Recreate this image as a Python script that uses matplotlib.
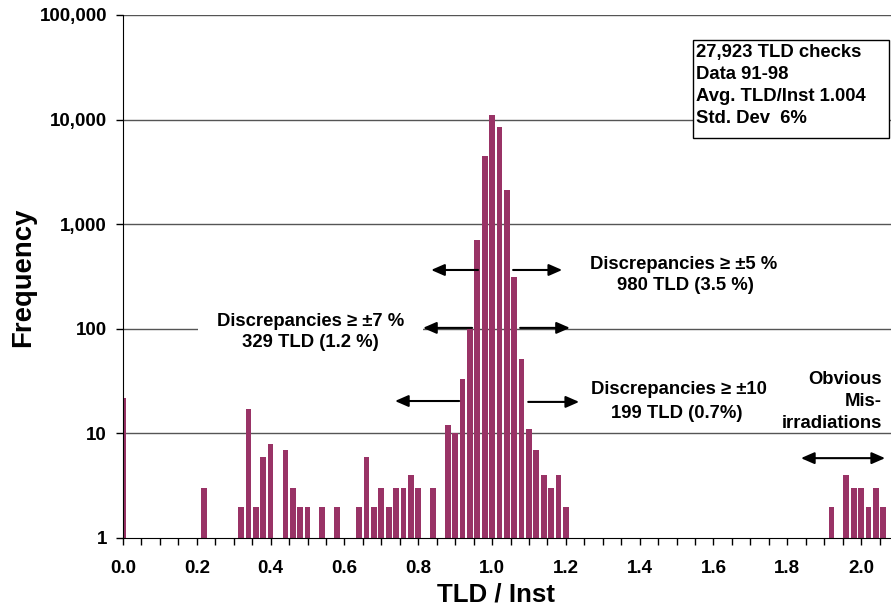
import numpy as np
from matplotlib import pyplot as plt
from matplotlib.patches import Rectangle
from matplotlib.ticker import FixedLocator, MultipleLocator

# bin centres (TLD / Inst) and counts
bin_centres = [0.00, 0.22, 0.32, 0.34, 0.36, 0.38, 0.40, 0.44, 0.46, 0.48,
               0.50, 0.54, 0.58, 0.64, 0.66, 0.68, 0.70, 0.72, 0.74, 0.76,
               0.78, 0.80, 0.84, 0.88, 0.90, 0.92, 0.94, 0.96, 0.98, 1.00,
               1.02, 1.04, 1.06, 1.08, 1.10, 1.12, 1.14, 1.16, 1.18, 1.20,
               1.92, 1.96, 1.98, 2.00, 2.02, 2.04, 2.06]
counts = [22, 3, 2, 17, 2, 6, 8, 7, 3, 2,
          2, 2, 2, 2, 6, 2, 3, 2, 3, 3,
          4, 3, 3, 12, 10, 33, 100, 700, 4500, 11000,
          8500, 2100, 310, 51, 11, 7, 4, 3, 4, 2,
          2, 4, 3, 3, 2, 3, 2]

y_ticks = [1, 10, 100, 1000, 10000, 100000]
y_labels = ['1', '10', '100', '1,000', '10,000', '100,000']
x_ticks = np.arange(0, 2.01, 0.2)
x_labels = [f'{t:.1f}' for t in x_ticks]

info_lines = ['27,923 TLD checks', 'Data 91-98', 'Avg. TLD/Inst 1.004', 'Std. Dev  6%']

plt.rcParams['font.family'] = ['Liberation Sans', 'DejaVu Sans']
plt.rcParams['font.weight'] = 'bold'
FS = 13.3

fig = plt.figure(figsize=(8.91, 6.10), dpi=100)
ax = fig.add_axes([123 / 891, 72 / 610, 768 / 891, 523 / 610])

for y in y_ticks[1:]:
    ax.axhline(y, color='#555555', lw=1, zorder=0)

ax.bar(bin_centres, counts, width=0.0155, color='#993366', zorder=2)

ax.set_yscale('log')
ax.set_ylim(1, 100000)
ax.set_xlim(0, 2.081)
ax.yaxis.set_major_locator(FixedLocator(y_ticks))
ax.yaxis.set_minor_locator(FixedLocator([]))
ax.set_yticklabels(y_labels)
ax.set_xticks(x_ticks)
ax.set_xticklabels(x_labels)
ax.xaxis.set_minor_locator(MultipleLocator(0.05))
ax.tick_params(axis='both', which='both', direction='out', length=5, width=1,
               labelsize=13.5, colors='black')
ax.tick_params(axis='y', pad=6.5)
ax.tick_params(axis='x', which='major', pad=10.5)
for side in ['top', 'right']:
    ax.spines[side].set_visible(False)

ax.set_xlabel('TLD / Inst', fontsize=18.6, fontweight='bold')
ax.xaxis.set_label_coords((496 - 123) / 768, (538 - 595) / 523)
ax.xaxis.label.set_va('center')
ax.set_ylabel('Frequency', fontsize=19.8, fontweight='bold')
ax.yaxis.set_label_coords((23.5 - 123) / 768, 0.498)
ax.yaxis.label.set_va('center')

# info box
ax.add_patch(Rectangle((0.742, 0.765), 0.255, 0.187, transform=ax.transAxes,
                       facecolor='white', edgecolor='black', lw=1, zorder=5))
for i, line in enumerate(info_lines):
    ax.text(0.7455, 0.929 - i * 0.042, line, transform=ax.transAxes, fontsize=FS,
            fontweight='bold', va='center', ha='left', zorder=6)

arrow = dict(arrowstyle='-|>,head_length=0.8,head_width=0.35', color='black', lw=1.5,
             shrinkA=0, shrinkB=0)
# +-5 %
ax.annotate('', xy=(0.835, 365), xytext=(0.962, 365), arrowprops=arrow, zorder=4)
ax.annotate('', xy=(1.19, 365), xytext=(1.057, 365), arrowprops=arrow, zorder=4)
ax.text(1.518, 410, 'Discrepancies \u2265 \u00b15 %', ha='center', va='center', fontsize=FS, fontweight='bold')
ax.text(1.523, 260, '980 TLD (3.5 %)', ha='center', va='center', fontsize=FS, fontweight='bold')
# +-7 %
ax.annotate('', xy=(0.813, 102), xytext=(0.946, 102), arrowprops=arrow, zorder=4)
ax.annotate('', xy=(1.211, 102), xytext=(1.076, 102), arrowprops=arrow, zorder=4)
ax.text(0.508, 117, 'Discrepancies \u2265 \u00b17 %', ha='center', va='center', fontsize=FS,
        fontweight='bold', zorder=3,
        bbox=dict(boxstyle='square,pad=1.0', facecolor='white', edgecolor='none'))
ax.text(0.509, 74, '329 TLD (1.2 %)', ha='center', va='center', fontsize=FS, fontweight='bold', zorder=3)
# +-10 %
ax.annotate('', xy=(0.737, 20.4), xytext=(0.911, 20.4), arrowprops=arrow, zorder=4)
ax.annotate('', xy=(1.236, 20.0), xytext=(1.098, 20.0), arrowprops=arrow, zorder=4)
ax.text(1.507, 26, 'Discrepancies \u2265 \u00b110', ha='center', va='center', fontsize=FS, fontweight='bold')
ax.text(1.50, 15.6, '199 TLD (0.7%)', ha='center', va='center', fontsize=FS, fontweight='bold')
# obvious misirradiations
ax.annotate('', xy=(1.837, 5.8), xytext=(2.065, 5.8), zorder=4,
            arrowprops=dict(arrowstyle='<|-|>,head_length=0.8,head_width=0.35', color='black',
                            lw=1.5, shrinkA=0, shrinkB=0))
for txt, y in [('Obvious', 32.4), ('Mis-', 20), ('irradiations', 12.3)]:
    ax.text(2.057, y, txt, ha='right', va='center', fontsize=FS, fontweight='bold')

fig.savefig('out.png', dpi=100)
